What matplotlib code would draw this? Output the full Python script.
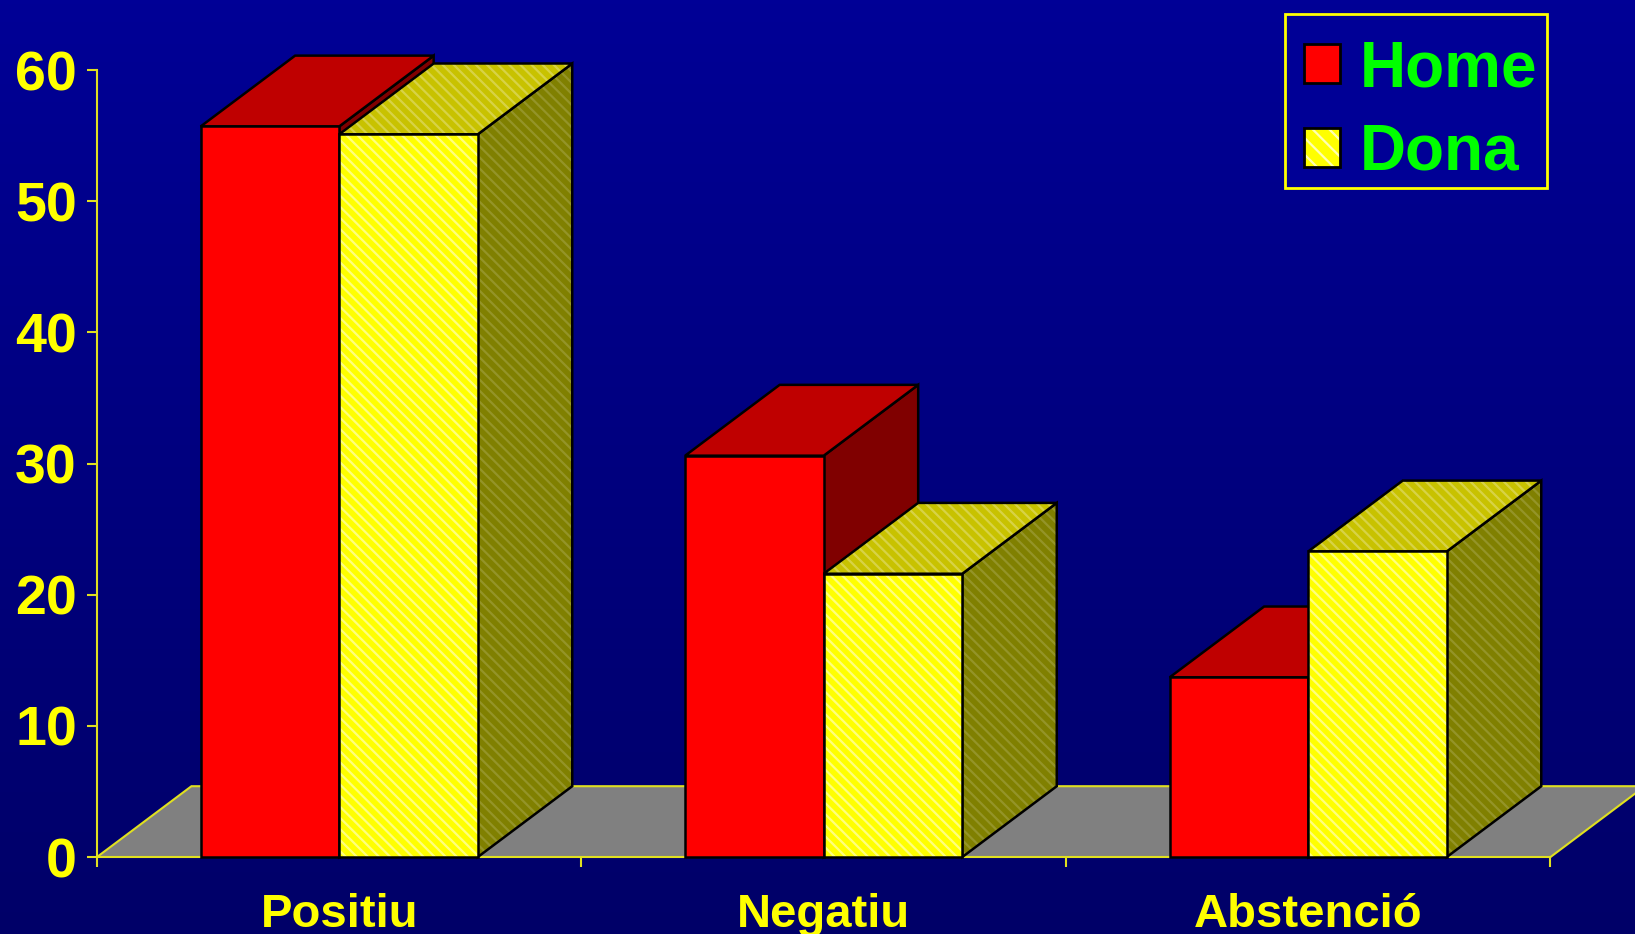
import matplotlib
matplotlib.use("Agg")
import matplotlib.pyplot as plt
import numpy as np
from matplotlib.patches import Polygon, Patch, Rectangle

# Dades
categories = ["Positiu", "Negatiu", "Abstenció"]
series_names = ["Home", "Dona"]
home = [55.7, 30.6, 13.7]
dona = [55.1, 21.6, 23.3]
y_ticks = [0, 10, 20, 30, 40, 50, 60]

plt.rcParams["font.family"] = ["Liberation Sans", "DejaVu Sans"]
plt.rcParams["font.weight"] = "bold"
plt.rcParams["hatch.linewidth"] = 1.6

YELLOW = "#FFFF00"
AXIS_YELLOW = "#E0E020"
GREEN = "#00FF00"

# colors per series: front, top, side, hatch (True/None)
styles = {
    "Home": dict(front="#FF0000", top="#BF0000", side="#800000", hatch=None),
    "Dona": dict(front="#FFFF00", top="#C8C200", side="#808000", hatch=True),
}
hatch_cols = {"front": (1, 1, 1, 0.5), "top": (1, 1, 1, 0.28), "side": (1, 1, 1, 0.16)}

fig = plt.figure(figsize=(16.35, 9.34), dpi=100)

# Fons amb degradat
bg = fig.add_axes([0, 0, 1, 1], zorder=-5)
grad = np.linspace(0, 1, 256).reshape(-1, 1)
top_c = np.array([0, 0, 150]) / 255
bot_c = np.array([0, 0, 104]) / 255
img = top_c + (bot_c - top_c) * grad[:, :, None]
bg.imshow(img.reshape(256, 1, 3), aspect="auto", extent=[0, 1, 0, 1])
bg.axis("off")

ax = fig.add_axes([0.0593, 0.0824, 0.889, 0.8426])
ax.set_facecolor("none")
ax.set_xlim(0, len(categories))
ax.set_ylim(0, 60)

bar_w = 0.286
dx = 0.195   # profunditat (en unitats de categoria)
dy = 5.4     # profunditat (en unitats de valor)

# Terra gris
n = len(categories)
floor = Polygon([(0, 0), (n, 0), (n + dx, dy), (dx, dy)], closed=True,
                facecolor="#808080", edgecolor="none", zorder=1, clip_on=False)
ax.add_patch(floor)
ax.plot([0, dx, n + dx], [0, dy, dy], color=AXIS_YELLOW, lw=1.5, zorder=1.5,
        clip_on=False, solid_joinstyle="miter")
ax.plot([n, n + dx], [0, dy], color=AXIS_YELLOW, lw=1.5, zorder=1.5, clip_on=False)


def face(pts, color, hatch_col, z):
    ax.add_patch(Polygon(pts, closed=True, facecolor=color, edgecolor="none",
                         zorder=z, clip_on=False))
    if hatch_col is not None:
        ax.add_patch(Polygon(pts, closed=True, facecolor="none", edgecolor=hatch_col,
                             hatch="\\\\\\", linewidth=0, zorder=z, clip_on=False))
    ax.add_patch(Polygon(pts, closed=True, facecolor="none", edgecolor="black",
                         linewidth=1.8, joinstyle="miter", zorder=z, clip_on=False))


def box(x0, v, st, z):
    front = [(x0, 0), (x0 + bar_w, 0), (x0 + bar_w, v), (x0, v)]
    top = [(x0, v), (x0 + bar_w, v), (x0 + bar_w + dx, v + dy), (x0 + dx, v + dy)]
    side = [(x0 + bar_w, 0), (x0 + bar_w + dx, dy), (x0 + bar_w + dx, v + dy), (x0 + bar_w, v)]
    h = st["hatch"]
    face(side, st["side"], hatch_cols["side"] if h else None, z)
    face(top, st["top"], hatch_cols["top"] if h else None, z)
    face(front, st["front"], hatch_cols["front"] if h else None, z)


z = 2
for i in range(n):
    c = i + 0.5
    box(c - bar_w, home[i], styles["Home"], z)
    z += 1
    box(c, dona[i], styles["Dona"], z)
    z += 1

# Eixos
for s in ["top", "right"]:
    ax.spines[s].set_visible(False)
for s in ["left", "bottom"]:
    ax.spines[s].set_color(AXIS_YELLOW)
    ax.spines[s].set_linewidth(1.5)
    ax.spines[s].set_zorder(1.6)

ax.set_yticks(y_ticks)
ax.set_yticklabels([str(t) for t in y_ticks])
ax.tick_params(axis="y", colors=AXIS_YELLOW, labelcolor=YELLOW, length=7.5, width=1.5,
               labelsize=40, pad=7)
ax.set_xticks(range(n + 1))
ax.set_xticklabels([])
ax.set_xticks([i + 0.5 for i in range(n)], minor=True)
ax.set_xticklabels(categories, minor=True)
ax.tick_params(axis="x", which="major", colors=AXIS_YELLOW, length=7.5, width=1.5)
ax.tick_params(axis="x", which="minor", length=0, labelcolor=YELLOW, labelsize=34, pad=26)
for lab in ax.get_xticklabels(minor=True) + ax.get_yticklabels():
    lab.set_fontweight("bold")

# Marc de la llegenda
fig.patches.append(Rectangle((0.7857, 0.799), 0.9464 - 0.7857, 0.9854 - 0.799,
                             transform=fig.transFigure, facecolor="#000096",
                             edgecolor=YELLOW, linewidth=2, zorder=5))

# Llegenda
h_home = Patch(facecolor="#FF0000", edgecolor="black", linewidth=2)
h_dona = (Patch(facecolor="#FFFF00", edgecolor="none"),
          Patch(facecolor="none", edgecolor=(1, 1, 1, 0.7), hatch="\\\\", linewidth=0),
          Patch(facecolor="none", edgecolor="black", linewidth=2))
leg = fig.legend([h_home, h_dona], series_names, loc="upper right",
                 bbox_to_anchor=(0.9497, 0.9753), fontsize=46, frameon=False,
                 handlelength=0.56, handleheight=0.56, handletextpad=0.3,
                 labelspacing=0.37, borderpad=0.25, borderaxespad=0)
leg.set_zorder(6)
for t in leg.get_texts():
    t.set_color(GREEN)
    t.set_fontweight("bold")

fig.savefig("out.png", dpi=100, facecolor="#000080")
